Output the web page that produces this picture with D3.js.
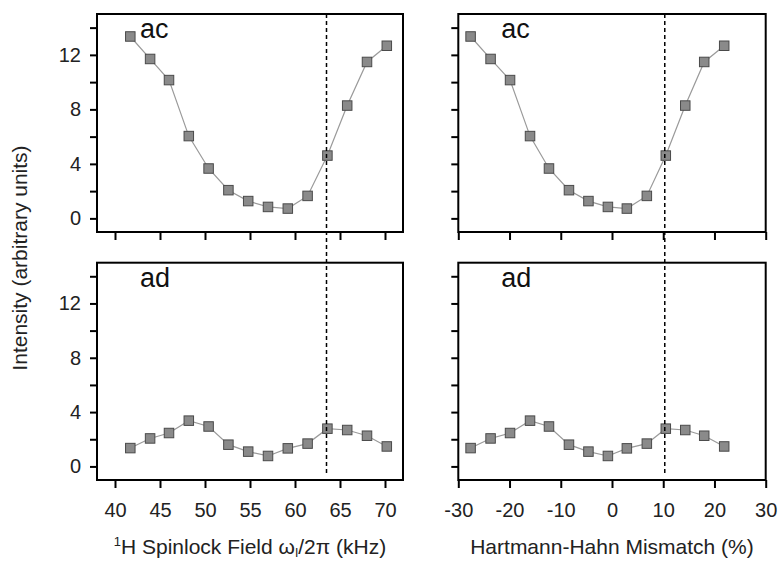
<!DOCTYPE html>
<html>
<head>
<meta charset="utf-8">
<script src="https://cdn.jsdelivr.net/npm/d3@7"></script>
<style>
  body { margin: 0; background: #fff; }
  svg { display: block; font-family: "Liberation Sans", Arial, sans-serif; }
  .frame { fill: none; stroke: #000; stroke-width: 2; }
  .tick line { stroke: #000; stroke-width: 2; }
  .tick text { font-size: 20px; fill: #222; }
  .series { fill: none; stroke: #9a9a9a; stroke-width: 1.2; }
  .marker { fill: #8a8a8a; stroke: #4a4a4a; stroke-width: 1; }
  .mark-line { stroke: #000; stroke-width: 1.5; stroke-dasharray: 4 3; }
  .panel-label { font-size: 27px; fill: #111; }
  .title { font-size: 21px; fill: #222; }
</style>
</head>
<body>
<div id="chart"></div>
<script>
// spinlock field of each point (kHz) and the same points as Hartmann-Hahn mismatch (%)
const spinlockKHz = [41.7, 43.9, 46.0, 48.2, 50.4, 52.6, 54.8, 57.0, 59.2, 61.4, 63.6, 65.8, 68.0, 70.2];
const mismatchPct = [-27.6, -23.7, -19.9, -16.0, -12.3, -8.4, -4.6, -0.8, 2.9, 6.8, 10.5, 14.3, 18.0, 21.9];

// intensities (arbitrary units)
const acIntensity = [13.35, 11.7, 10.15, 6.04, 3.66, 2.07, 1.27, 0.84, 0.72, 1.65, 4.61, 8.28, 11.48, 12.67];
const adIntensity = [1.35, 2.06, 2.46, 3.37, 2.94, 1.6, 1.09, 0.77, 1.33, 1.68, 2.78, 2.68, 2.26, 1.47];

// dashed reference (matched condition)
const dashedKHz = 63.5;
const dashedPct = 10.3;

const kHzTicks = [40, 45, 50, 55, 60, 65, 70];
const pctTicks = [-30, -20, -10, 0, 10, 20, 30];
const yTicks = [0, 2, 4, 6, 8, 10, 12, 14];
const yLabelled = [0, 4, 8, 12];

const width = 780, height = 561;

const svg = d3.select("#chart")
  .append("svg")
  .attr("width", width)
  .attr("height", height);

const xLeft = d3.scaleLinear().domain([38, 72]).range([97, 403]);
const xRight = d3.scaleLinear().domain([-30, 30]).range([458.3, 765.7]);
const yTop = d3.scaleLinear().domain([-1, 15]).range([232, 14]);
const yBottom = d3.scaleLinear().domain([-1, 15]).range([480, 262.7]);

const panels = [
  { x: xLeft, y: yTop, xs: spinlockKHz, ys: acIntensity, label: "ac", xTicks: kHzTicks, xLabels: false, yLabels: true },
  { x: xRight, y: yTop, xs: mismatchPct, ys: acIntensity, label: "ac", xTicks: pctTicks, xLabels: false, yLabels: false },
  { x: xLeft, y: yBottom, xs: spinlockKHz, ys: adIntensity, label: "ad", xTicks: kHzTicks, xLabels: true, yLabels: true },
  { x: xRight, y: yBottom, xs: mismatchPct, ys: adIntensity, label: "ad", xTicks: pctTicks, xLabels: true, yLabels: false }
];

panels.forEach(p => {
  const [x0, x1] = p.x.range();
  const [y1, y0] = p.y.range();
  const g = svg.append("g");

  // y axis
  g.append("g")
    .attr("transform", `translate(${x0}, 0)`)
    .call(d3.axisLeft(p.y)
      .tickValues(yTicks)
      .tickSize(7)
      .tickPadding(9)
      .tickSizeOuter(0)
      .tickFormat(d => p.yLabels && yLabelled.includes(d) ? String(d) : ""))
    .call(a => a.select(".domain").remove());

  // x axis
  g.append("g")
    .attr("transform", `translate(0, ${y1})`)
    .call(d3.axisBottom(p.x)
      .tickValues(p.xTicks)
      .tickSize(8)
      .tickPadding(15)
      .tickSizeOuter(0)
      .tickFormat(d => p.xLabels ? String(d) : ""))
    .call(a => a.select(".domain").remove());

  g.selectAll(".tick text").attr("font-family", null).attr("font-size", null);

  g.append("rect")
    .attr("class", "frame")
    .attr("x", x0)
    .attr("y", y0)
    .attr("width", x1 - x0)
    .attr("height", y1 - y0);

  const pts = p.xs.map((v, i) => [v, p.ys[i]]);

  const line = d3.line()
    .x(d => p.x(d[0]))
    .y(d => p.y(d[1]));

  g.append("path")
    .datum(pts)
    .attr("class", "series")
    .attr("d", line);

  const s = 9.5;
  g.selectAll(".marker")
    .data(pts)
    .join("rect")
      .attr("class", "marker")
      .attr("x", d => p.x(d[0]) - s / 2)
      .attr("y", d => p.y(d[1]) - s / 2)
      .attr("width", s)
      .attr("height", s);

  g.append("text")
    .attr("class", "panel-label")
    .attr("x", x0 + 43)
    .attr("y", y0 + 24)
    .text(p.label);
});

// dashed lines run through both rows
[[xLeft, dashedKHz], [xRight, dashedPct]].forEach(([x, v]) => {
  svg.append("line")
    .attr("class", "mark-line")
    .attr("x1", x(v))
    .attr("x2", x(v))
    .attr("y1", yTop(15))
    .attr("y2", yBottom(-0.6));
});

// axis titles
const t1 = svg.append("text")
  .attr("class", "title")
  .attr("text-anchor", "middle")
  .attr("x", d3.mean(xLeft.range()))
  .attr("y", 554);
t1.append("tspan").attr("font-size", "13px").attr("dy", "-8").text("1");
t1.append("tspan").attr("dy", "8").text("H Spinlock Field ω");
t1.append("tspan").attr("font-size", "12px").attr("dy", "3").text("I");
t1.append("tspan").attr("dy", "-3").text("/2π (kHz)");

svg.append("text")
  .attr("class", "title")
  .attr("text-anchor", "middle")
  .attr("x", d3.mean(xRight.range()))
  .attr("y", 554)
  .text("Hartmann-Hahn Mismatch (%)");

svg.append("text")
  .attr("class", "title")
  .attr("text-anchor", "middle")
  .attr("transform", "translate(27, 258) rotate(-90)")
  .text("Intensity (arbitrary units)");
</script>
</body>
</html>
